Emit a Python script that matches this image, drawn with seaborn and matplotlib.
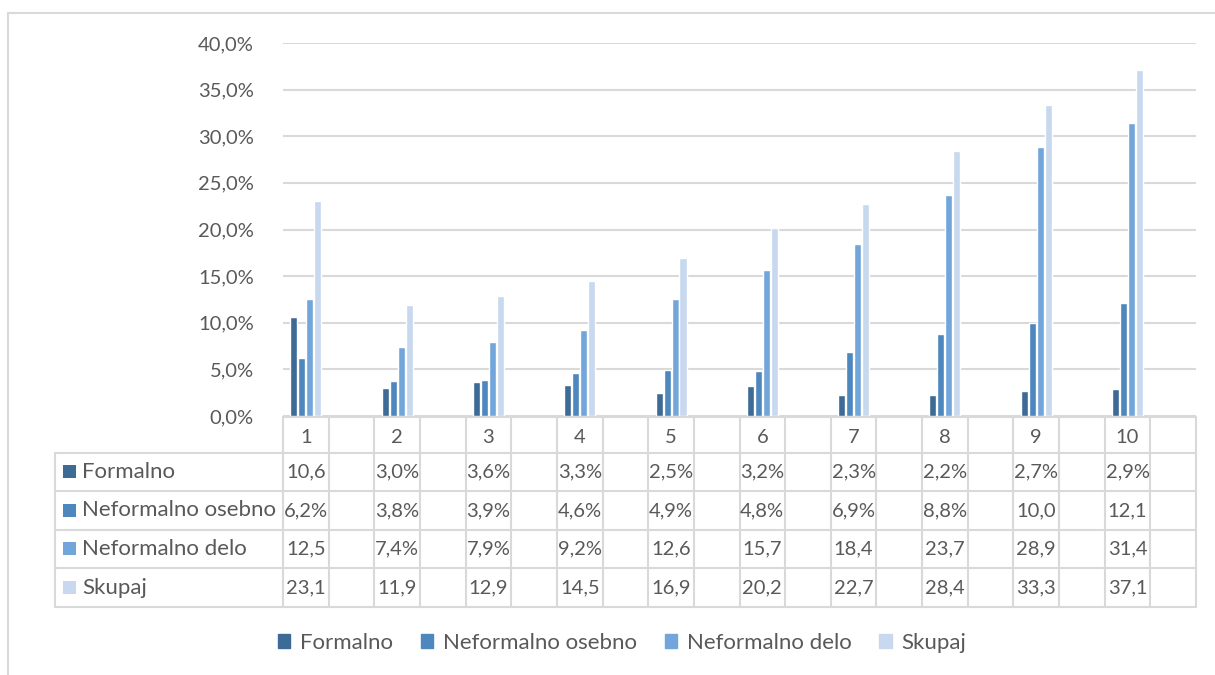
import matplotlib
matplotlib.use("Agg")
import matplotlib.pyplot as plt
import seaborn as sns
import pandas as pd
from matplotlib.patches import Patch, Rectangle
from matplotlib.ticker import FuncFormatter, MultipleLocator

# podatki (v %)
categories = ["1", "2", "3", "4", "5", "6", "7", "8", "9", "10"]
formalno = [10.6, 3.0, 3.6, 3.3, 2.5, 3.2, 2.3, 2.2, 2.7, 2.9]
neformalno_osebno = [6.2, 3.8, 3.9, 4.6, 4.9, 4.8, 6.9, 8.8, 10.0, 12.1]
neformalno_delo = [12.5, 7.4, 7.9, 9.2, 12.6, 15.7, 18.4, 23.7, 28.9, 31.4]
skupaj = [23.1, 11.9, 12.9, 14.5, 16.9, 20.2, 22.7, 28.4, 33.3, 37.1]
series_names = ["Formalno", "Neformalno osebno", "Neformalno delo", "Skupaj"]
colors = ["#3E6B96", "#4E87BE", "#72A6DA", "#C8D8EE"]

sns.set_theme(style="white")
plt.rcParams['font.family'] = ['Lato', 'DejaVu Sans']
txt_col = "#595959"
line_col = "#D9D9D9"
fs_num = 14.5
fs_txt = 16

all_series = [formalno, neformalno_osebno, neformalno_delo, skupaj]
rows = []
for name, vals in zip(series_names, all_series):
    for i, v in enumerate(vals):
        # vsaka kategorija ima prazen stolpec desno od sebe
        rows.append({"pos": 2 * i, "serija": name, "vrednost": v / 100})
df = pd.DataFrame(rows)

W, H = 1215, 675
fig = plt.figure(figsize=(W / 100, H / 100), dpi=100)

# mere v pikslih
left, right, top, zero = 283, 1196, 43, 416
ax = fig.add_axes([left / W, 1 - zero / H, (right - left) / W, (zero - top) / H])
sns.barplot(data=df, x="pos", y="vrednost", hue="serija", hue_order=series_names,
            palette=colors, saturation=1, native_scale=True, width=0.35, gap=0.12,
            legend=False, ax=ax)
ax.set_xlim(-0.5, 19.5)
ax.set_ylim(0, 0.4)
ax.yaxis.set_major_locator(MultipleLocator(0.05))
ax.yaxis.set_major_formatter(FuncFormatter(lambda v, p: f"{v * 100:.1f}%".replace(".", ",")))
ax.grid(axis="y", color=line_col, lw=1.5)
ax.set_axisbelow(True)
for s in ax.spines.values():
    s.set_visible(False)
ax.tick_params(axis="y", length=0, pad=21, labelsize=fs_num, labelcolor=txt_col)
ax.set_xticks([2 * i for i in range(len(categories))])
ax.set_xticklabels(categories)
ax.tick_params(axis="x", length=0, pad=9, labelsize=fs_num, labelcolor=txt_col)
ax.set_xlabel("")
ax.set_ylabel("")

# tabela s podatki
ov = fig.add_axes([0, 0, 1, 1], zorder=-1)
ov.set_xlim(0, W)
ov.set_ylim(H, 0)
ov.axis("off")
slot = (right - left) / 20
row_y = [453, 491, 530, 568, 607]
ov.plot([left, right], [417, 417], color=line_col, lw=1.5)
for y in row_y:
    ov.plot([55, right], [y, y], color=line_col, lw=1.5)
for k in range(21):
    x = left + k * slot
    ov.plot([x, x], [417, 607], color=line_col, lw=1.5)
ov.plot([55, 55], [453, 607], color=line_col, lw=1.5)

for r, (name, vals) in enumerate(zip(series_names, all_series)):
    yc = (row_y[r] + row_y[r + 1]) / 2
    ov.add_patch(Rectangle((63, yc - 7), 13, 13, color=colors[r], lw=0))
    ov.text(82, yc, name, ha="left", va="center", fontsize=fs_txt, color=txt_col)
    for i, v in enumerate(vals):
        s = f"{v:.1f}%".replace(".", ",")[:4]
        ov.text(left + (2 * i + 0.5) * slot, yc, s, ha="center", va="center",
                fontsize=fs_num, color=txt_col)

# okvir
ov.plot([8, 8], [13, H], color=line_col, lw=1.5)
ov.plot([8, W], [13, 13], color=line_col, lw=1.5)

handles = [Patch(color=c, label=n) for c, n in zip(colors, series_names)]
fig.legend(handles=handles, loc="center", bbox_to_anchor=(622 / W, 1 - 643 / H), ncol=4,
           frameon=False, fontsize=fs_txt, labelcolor=txt_col, handlelength=0.55,
           handleheight=0.55, handletextpad=0.45, columnspacing=1.25)

fig.savefig("out.png", dpi=100)
